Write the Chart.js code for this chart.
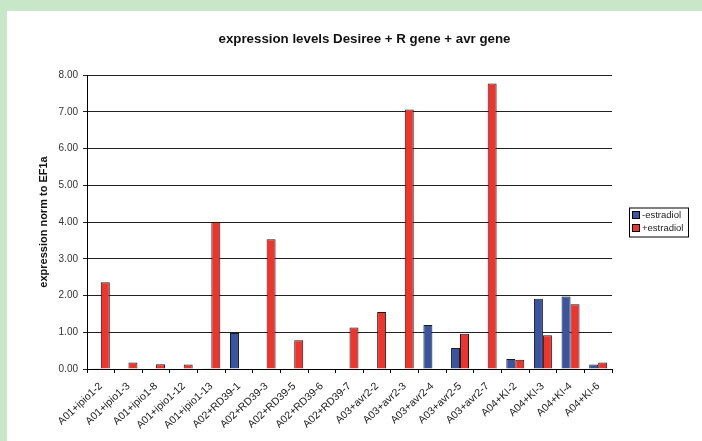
<!DOCTYPE html>
<html>
<head>
<meta charset="utf-8">
<title>expression levels Desiree + R gene + avr gene</title>
<script src="https://cdn.jsdelivr.net/npm/chart.js@4.4.1/dist/chart.umd.min.js"></script>
<style>
  html, body { margin: 0; padding: 0; }
  body { background: #c8e6c8; width: 702px; height: 441px; overflow: hidden; }
  #wrap { position: absolute; left: 7px; top: 11px; width: 695px; height: 430px; background: #fff; }
</style>
</head>
<body>
<div id="wrap"><canvas id="expr" width="695" height="430"></canvas></div>
<script>
// sample lines on the x axis
const lines = ['A01+ipio1-2', 'A01+ipio1-3', 'A01+ipio1-8', 'A01+ipio1-12', 'A01+ipio1-13',
    'A02+RD39-1', 'A02+RD39-3', 'A02+RD39-5', 'A02+RD39-6', 'A02+RD39-7',
    'A03+avr2-2', 'A03+avr2-3', 'A03+avr2-4', 'A03+avr2-5', 'A03+avr2-7',
    'A04+KI-2', 'A04+KI-3', 'A04+KI-4', 'A04+KI-6'];

// expression norm to EF1a
const minusEstradiol = [0.02, 0, 0, 0, 0.01, 0.98, 0, 0, 0, 0, 0, 0, 1.20, 0.57, 0, 0.27, 1.91, 1.97, 0.12];
const plusEstradiol  = [2.36, 0.18, 0.13, 0.12, 4.00, 0, 3.53, 0.78, 0, 1.13, 1.55, 7.06, 0, 0.96, 7.77, 0.25, 0.92, 1.76, 0.18];

const seriesNames = ['-estradiol', '+estradiol'];
const seriesColors = ['#3a54a4', '#f0332b'];
const yTicks = [0, 1, 2, 3, 4, 5, 6, 7, 8];
const chartTitle = 'expression levels Desiree + R gene + avr gene';

Chart.defaults.font.family = "'Liberation Sans', Arial, sans-serif";
Chart.defaults.color = '#222';

// title sits a bit right of centre like in the excel original
const excelTitle = {
    id: 'excelTitle',
    afterDraw(chart) {
        const ctx = chart.ctx;
        ctx.save();
        ctx.font = "bold 13.3px 'Liberation Sans', Arial, sans-serif";
        ctx.fillStyle = '#111';
        ctx.textAlign = 'center';
        ctx.textBaseline = 'middle';
        ctx.fillText(chartTitle, chart.width / 2 + 10, 28);
        ctx.restore();
    }
};

// excel style legend with a frame round it
const boxedLegend = {
    id: 'boxedLegend',
    afterDraw(chart) {
        const ctx = chart.ctx;
        const area = chart.chartArea;
        const x = area.right + 17, w = 59, h = 29;
        const y = (area.top + area.bottom) / 2 - h / 2;
        ctx.save();
        ctx.strokeStyle = '#000';
        ctx.lineWidth = 1;
        ctx.strokeRect(x + 0.5, y + 0.5, w, h);
        ctx.font = "9.5px 'Liberation Sans', Arial, sans-serif";
        ctx.textBaseline = 'middle';
        chart.data.datasets.forEach(function(ds, i) {
            const cy = y + 8 + i * 13;
            ctx.fillStyle = ds.backgroundColor;
            ctx.fillRect(x + 4, cy - 3.5, 6, 6);
            ctx.strokeStyle = '#000';
            ctx.strokeRect(x + 3.5, cy - 4, 7, 7);
            ctx.fillStyle = '#222';
            ctx.fillText(ds.label, x + 13, cy);
        });
        ctx.restore();
    }
};

const ctx = document.getElementById('expr');
new Chart(ctx, {
    type: 'bar',
    data: {
        labels: lines,
        datasets: [
            {label: seriesNames[0], data: minusEstradiol, backgroundColor: seriesColors[0],
             borderColor: '#1a1a1a', borderWidth: 1, borderSkipped: 'bottom',
             barPercentage: 1, categoryPercentage: 0.65},
            {label: seriesNames[1], data: plusEstradiol, backgroundColor: seriesColors[1],
             borderColor: '#1a1a1a', borderWidth: 1, borderSkipped: 'bottom',
             barPercentage: 1, categoryPercentage: 0.65}
        ]
    },
    options: {
        responsive: false,
        animation: false,
        layout: {padding: {left: 30, right: 90, top: 64, bottom: 0}},
        plugins: {
            legend: {display: false},
            tooltip: {enabled: false},
            title: {display: false}
        },
        scales: {
            x: {
                grid: {display: true, drawOnChartArea: false, drawTicks: true, tickLength: 4, color: '#000', offset: true},
                border: {display: true, color: '#000'},
                ticks: {autoSkip: false, maxRotation: 43, minRotation: 43, padding: 7,
                        font: {size: 10.5}, color: '#222'},
                afterFit: function(scale) { scale.height = 72; }
            },
            y: {
                min: 0,
                max: 8,
                afterBuildTicks: function(scale) { scale.ticks = yTicks.map(v => ({value: v})); },
                grid: {color: '#222', lineWidth: 1, tickLength: 4},
                border: {display: true, color: '#000'},
                ticks: {padding: 5, font: {size: 10}, color: '#333',
                        callback: function(v) { return v.toFixed(2); }},
                title: {display: true, text: 'expression norm to EF1a', color: '#111',
                        font: {size: 11, weight: 'bold'}, padding: 0},
                afterFit: function(scale) { scale.width = 50; }
            }
        }
    },
    plugins: [excelTitle, boxedLegend]
});
</script>
</body>
</html>
